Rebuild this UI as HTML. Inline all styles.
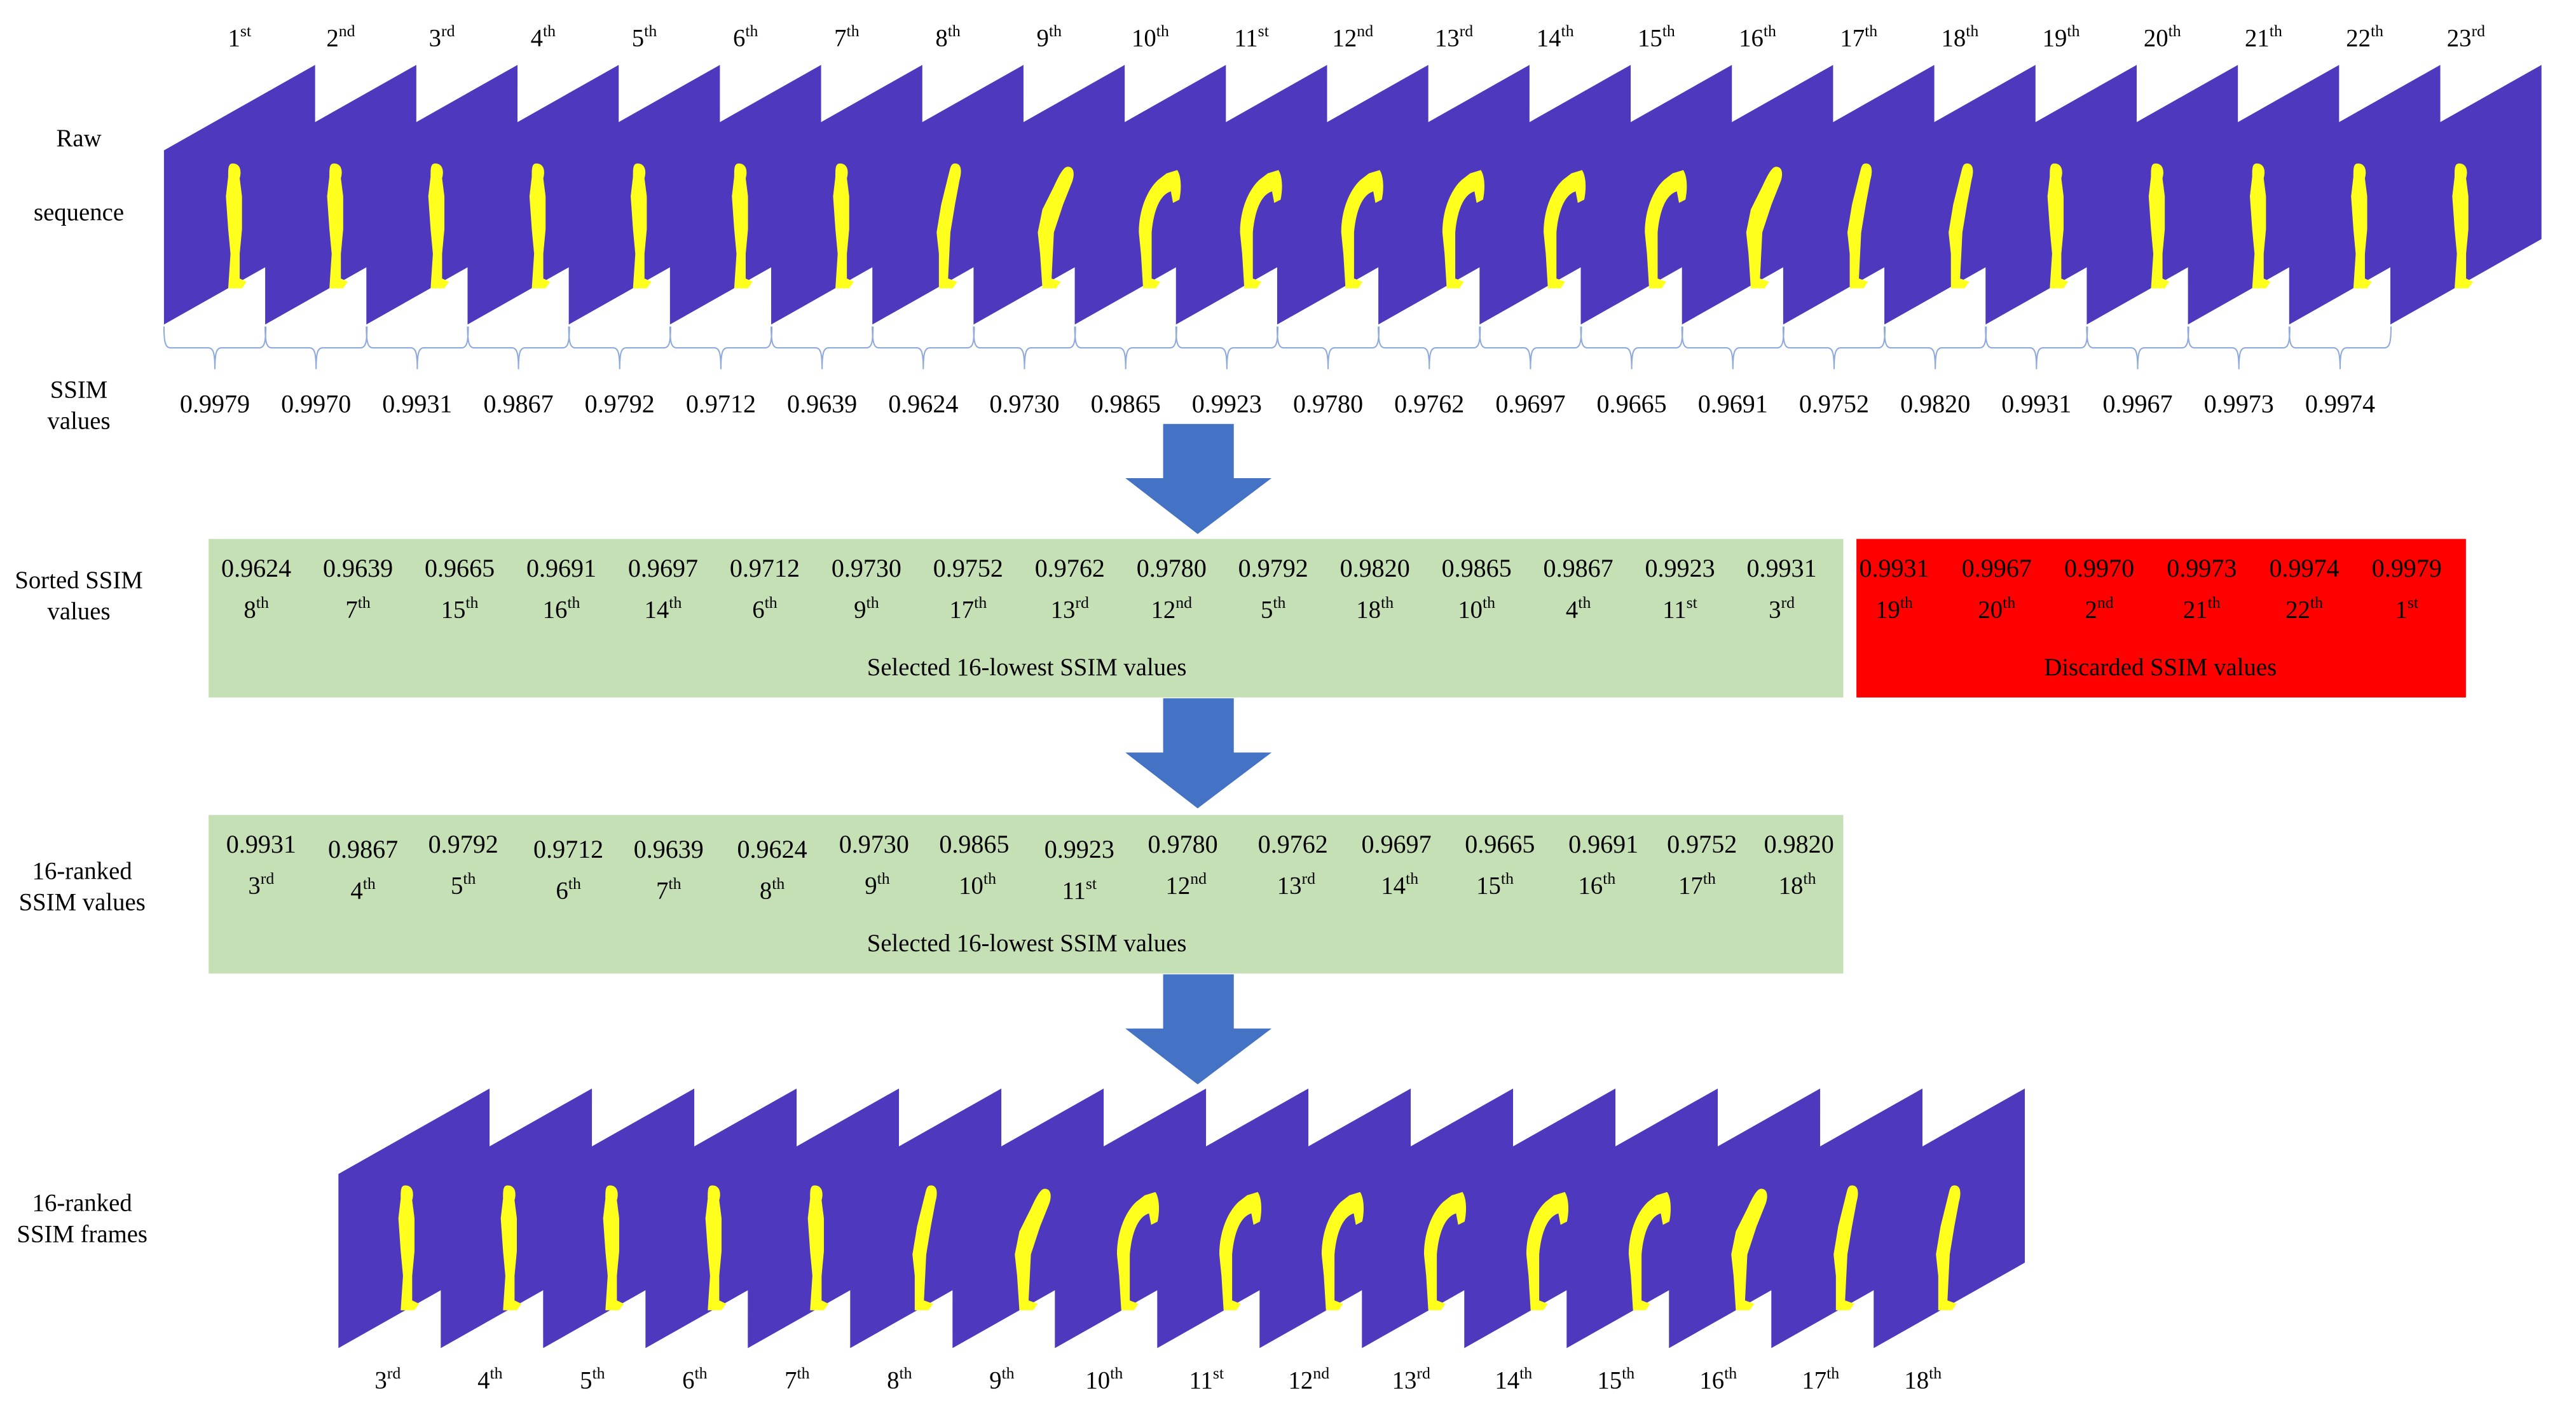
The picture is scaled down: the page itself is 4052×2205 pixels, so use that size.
<!DOCTYPE html>
<html><head><meta charset="utf-8"><style>
html,body{margin:0;padding:0;background:#fff;}
svg{display:block;}
text{font-family:"Liberation Serif","Times New Roman",serif;fill:#000;}
</style></head><body>
<svg width="4052" height="2205" viewBox="0 0 1568 853.3" preserveAspectRatio="none" xmlns="http://www.w3.org/2000/svg" xmlns:xlink="http://www.w3.org/1999/xlink">
<defs>
<path id="fr" d="M0,52 L92,0 L92,106 L0,158 Z" fill="#4E38BE"/>
<g id="up"><path transform="scale(1.4,1)" fill="#FFFF1E" d="M3,0 C6,0 7,4 6,9 L7,20 L7,40 L6,55 L6,70 L9,72 L7,76 L1,76 L2,55 L1,40 L0,20 L1,8 C1,3 1,0 3,0 Z"/></g>
<g id="ln"><path transform="scale(1.4,1)" fill="#FFFF1E" d="M9,0 C12,0 12,5 11,10 L9,25 L7,42 L6,70 L10,72 L8,76 L2,76 L2,55 L1,42 L3,25 L6,8 C7,3 7,0 9,0 Z"/></g>
<g id="ln2"><path transform="scale(1.4,1)" fill="#FFFF1E" d="M14,2 C17,2 17,7 16,11 L12,25 L8,42 L7,70 L11,72 L9,76 L3,76 L2,55 L1,42 L3,28 L8,14 C10,8 12,2 14,2 Z"/></g>
<g id="bt"><path transform="scale(1.3,1)" fill="#FFFF1E" d="M14,6 L19,4 C21,8 21,16 20,22 L17,24 L16,17 C11,19 8,28 7,42 L7,70 L11,72 L9,76 L3,76 L2,55 L1,42 C1,28 5,16 10,10 Z"/></g>
<path id="br" fill="none" stroke="#8FAADC" stroke-width="0.8" d="M0,0 C0,10 1,13 4,13 L27,13 C30,13 31,16 31,26 C31,16 32,13 35,13 L58,13 C61,13 62,10 62,0"/>
<path id="arr" fill="#4472C4" d="M-21,0 L22,0 L22,33 L45,33 L0,67 L-44,33 L-21,33 Z"/>
</defs>

<g transform="translate(99.8,39.5)">
<use xlink:href="#fr" x="0"/><use xlink:href="#fr" x="61.6"/><use xlink:href="#fr" x="123.2"/><use xlink:href="#fr" x="184.8"/><use xlink:href="#fr" x="246.4"/><use xlink:href="#fr" x="308"/><use xlink:href="#fr" x="369.6"/><use xlink:href="#fr" x="431.2"/><use xlink:href="#fr" x="492.8"/><use xlink:href="#fr" x="554.4"/><use xlink:href="#fr" x="616"/><use xlink:href="#fr" x="677.6"/><use xlink:href="#fr" x="739.2"/><use xlink:href="#fr" x="800.8"/><use xlink:href="#fr" x="862.4"/><use xlink:href="#fr" x="924"/><use xlink:href="#fr" x="985.6"/><use xlink:href="#fr" x="1047.2"/><use xlink:href="#fr" x="1108.8"/><use xlink:href="#fr" x="1170.4"/><use xlink:href="#fr" x="1232"/><use xlink:href="#fr" x="1293.6"/><use xlink:href="#fr" x="1355.2"/>
</g>
<g transform="translate(137.5,99.5)">
<use xlink:href="#up" x="0"/><use xlink:href="#up" x="61.6"/><use xlink:href="#up" x="123.2"/><use xlink:href="#up" x="184.8"/><use xlink:href="#up" x="246.4"/><use xlink:href="#up" x="308"/><use xlink:href="#up" x="369.6"/><use xlink:href="#ln" x="431.2"/><use xlink:href="#ln2" x="492.8"/><use xlink:href="#bt" x="554.4"/><use xlink:href="#bt" x="616"/><use xlink:href="#bt" x="677.6"/><use xlink:href="#bt" x="739.2"/><use xlink:href="#bt" x="800.8"/><use xlink:href="#bt" x="862.4"/><use xlink:href="#ln2" x="924"/><use xlink:href="#ln" x="985.6"/><use xlink:href="#ln" x="1047.2"/><use xlink:href="#up" x="1108.8"/><use xlink:href="#up" x="1170.4"/><use xlink:href="#up" x="1232"/><use xlink:href="#up" x="1293.6"/><use xlink:href="#up" x="1355.2"/>
</g>
<g transform="translate(99.8,198.7)">
<use xlink:href="#br" x="0"/><use xlink:href="#br" x="61.6"/><use xlink:href="#br" x="123.2"/><use xlink:href="#br" x="184.8"/><use xlink:href="#br" x="246.4"/><use xlink:href="#br" x="308"/><use xlink:href="#br" x="369.6"/><use xlink:href="#br" x="431.2"/><use xlink:href="#br" x="492.8"/><use xlink:href="#br" x="554.4"/><use xlink:href="#br" x="616"/><use xlink:href="#br" x="677.6"/><use xlink:href="#br" x="739.2"/><use xlink:href="#br" x="800.8"/><use xlink:href="#br" x="862.4"/><use xlink:href="#br" x="924"/><use xlink:href="#br" x="985.6"/><use xlink:href="#br" x="1047.2"/><use xlink:href="#br" x="1108.8"/><use xlink:href="#br" x="1170.4"/><use xlink:href="#br" x="1232"/><use xlink:href="#br" x="1293.6"/>
</g>

<g font-size="15" text-anchor="middle">
<text x="145.8" y="28">1<tspan font-size="10" dy="-6">st</tspan></text>
<text x="207.4" y="28">2<tspan font-size="10" dy="-6">nd</tspan></text>
<text x="269" y="28">3<tspan font-size="10" dy="-6">rd</tspan></text>
<text x="330.6" y="28">4<tspan font-size="10" dy="-6">th</tspan></text>
<text x="392.2" y="28">5<tspan font-size="10" dy="-6">th</tspan></text>
<text x="453.8" y="28">6<tspan font-size="10" dy="-6">th</tspan></text>
<text x="515.4" y="28">7<tspan font-size="10" dy="-6">th</tspan></text>
<text x="577" y="28">8<tspan font-size="10" dy="-6">th</tspan></text>
<text x="638.6" y="28">9<tspan font-size="10" dy="-6">th</tspan></text>
<text x="700.2" y="28">10<tspan font-size="10" dy="-6">th</tspan></text>
<text x="761.8" y="28">11<tspan font-size="10" dy="-6">st</tspan></text>
<text x="823.4" y="28">12<tspan font-size="10" dy="-6">nd</tspan></text>
<text x="885" y="28">13<tspan font-size="10" dy="-6">rd</tspan></text>
<text x="946.6" y="28">14<tspan font-size="10" dy="-6">th</tspan></text>
<text x="1008.2" y="28">15<tspan font-size="10" dy="-6">th</tspan></text>
<text x="1069.8" y="28">16<tspan font-size="10" dy="-6">th</tspan></text>
<text x="1131.4" y="28">17<tspan font-size="10" dy="-6">th</tspan></text>
<text x="1193" y="28">18<tspan font-size="10" dy="-6">th</tspan></text>
<text x="1254.6" y="28">19<tspan font-size="10" dy="-6">th</tspan></text>
<text x="1316.2" y="28">20<tspan font-size="10" dy="-6">th</tspan></text>
<text x="1377.8" y="28">21<tspan font-size="10" dy="-6">th</tspan></text>
<text x="1439.4" y="28">22<tspan font-size="10" dy="-6">th</tspan></text>
<text x="1501" y="28">23<tspan font-size="10" dy="-6">rd</tspan></text>
</g>

<g font-size="15.5" text-anchor="middle">
<text x="130.8" y="251">0.9979</text><text x="192.4" y="251">0.9970</text><text x="254" y="251">0.9931</text><text x="315.6" y="251">0.9867</text><text x="377.2" y="251">0.9792</text><text x="438.8" y="251">0.9712</text><text x="500.4" y="251">0.9639</text><text x="562" y="251">0.9624</text><text x="623.6" y="251">0.9730</text><text x="685.2" y="251">0.9865</text><text x="746.8" y="251">0.9923</text><text x="808.4" y="251">0.9780</text><text x="870" y="251">0.9762</text><text x="931.6" y="251">0.9697</text><text x="993.2" y="251">0.9665</text><text x="1054.8" y="251">0.9691</text><text x="1116.4" y="251">0.9752</text><text x="1178" y="251">0.9820</text><text x="1239.6" y="251">0.9931</text><text x="1301.2" y="251">0.9967</text><text x="1362.8" y="251">0.9973</text><text x="1424.4" y="251">0.9974</text>
</g>

<g font-size="15" text-anchor="middle">
<text x="48" y="89">Raw</text><text x="48" y="134">sequence</text>
<text x="48" y="242">SSIM</text><text x="48" y="261">values</text>
<text x="48" y="358">Sorted SSIM</text><text x="48" y="377">values</text>
<text x="50" y="535">16-ranked</text><text x="50" y="554">SSIM values</text>
<text x="50" y="737">16-ranked</text><text x="50" y="756">SSIM frames</text>
</g>

<use xlink:href="#arr" x="729" y="258"/>
<use xlink:href="#arr" x="729" y="425"/>
<use xlink:href="#arr" x="729" y="593"/>

<rect x="127" y="328" width="995" height="96.5" fill="#C5E0B4"/>
<rect x="1130" y="328" width="371" height="96.5" fill="#FF0000"/>
<g font-size="15.5" text-anchor="middle">
<text x="156" y="351">0.9624</text><text x="217.9" y="351">0.9639</text><text x="279.8" y="351">0.9665</text><text x="341.7" y="351">0.9691</text><text x="403.6" y="351">0.9697</text><text x="465.5" y="351">0.9712</text><text x="527.4" y="351">0.9730</text><text x="589.3" y="351">0.9752</text><text x="651.2" y="351">0.9762</text><text x="713.1" y="351">0.9780</text><text x="775" y="351">0.9792</text><text x="836.9" y="351">0.9820</text><text x="898.8" y="351">0.9865</text><text x="960.7" y="351">0.9867</text><text x="1022.6" y="351">0.9923</text><text x="1084.5" y="351">0.9931</text>
<text x="1153" y="351">0.9931</text><text x="1215.4" y="351">0.9967</text><text x="1277.8" y="351">0.9970</text><text x="1340.2" y="351">0.9973</text><text x="1402.6" y="351">0.9974</text><text x="1465" y="351">0.9979</text>
</g>
<g font-size="15" text-anchor="middle">
<text x="156" y="376">8<tspan font-size="10" dy="-6">th</tspan></text>
<text x="217.9" y="376">7<tspan font-size="10" dy="-6">th</tspan></text>
<text x="279.8" y="376">15<tspan font-size="10" dy="-6">th</tspan></text>
<text x="341.7" y="376">16<tspan font-size="10" dy="-6">th</tspan></text>
<text x="403.6" y="376">14<tspan font-size="10" dy="-6">th</tspan></text>
<text x="465.5" y="376">6<tspan font-size="10" dy="-6">th</tspan></text>
<text x="527.4" y="376">9<tspan font-size="10" dy="-6">th</tspan></text>
<text x="589.3" y="376">17<tspan font-size="10" dy="-6">th</tspan></text>
<text x="651.2" y="376">13<tspan font-size="10" dy="-6">rd</tspan></text>
<text x="713.1" y="376">12<tspan font-size="10" dy="-6">nd</tspan></text>
<text x="775" y="376">5<tspan font-size="10" dy="-6">th</tspan></text>
<text x="836.9" y="376">18<tspan font-size="10" dy="-6">th</tspan></text>
<text x="898.8" y="376">10<tspan font-size="10" dy="-6">th</tspan></text>
<text x="960.7" y="376">4<tspan font-size="10" dy="-6">th</tspan></text>
<text x="1022.6" y="376">11<tspan font-size="10" dy="-6">st</tspan></text>
<text x="1084.5" y="376">3<tspan font-size="10" dy="-6">rd</tspan></text>
<text x="1153" y="376">19<tspan font-size="10" dy="-6">th</tspan></text>
<text x="1215.4" y="376">20<tspan font-size="10" dy="-6">th</tspan></text>
<text x="1277.8" y="376">2<tspan font-size="10" dy="-6">nd</tspan></text>
<text x="1340.2" y="376">21<tspan font-size="10" dy="-6">th</tspan></text>
<text x="1402.6" y="376">22<tspan font-size="10" dy="-6">th</tspan></text>
<text x="1465" y="376">1<tspan font-size="10" dy="-6">st</tspan></text>
<text x="625" y="411">Selected 16-lowest SSIM values</text>
<text x="1315" y="411">Discarded SSIM values</text>
</g>

<rect x="127" y="496" width="995" height="96.5" fill="#C5E0B4"/>
<g font-size="15.5" text-anchor="middle">
<text x="159" y="519">0.9931</text><text x="221" y="522">0.9867</text><text x="282" y="519">0.9792</text><text x="346" y="522">0.9712</text><text x="407" y="522">0.9639</text><text x="470" y="522">0.9624</text><text x="532" y="519">0.9730</text><text x="593" y="519">0.9865</text><text x="657" y="522">0.9923</text><text x="720" y="519">0.9780</text><text x="787" y="519">0.9762</text><text x="850" y="519">0.9697</text><text x="913" y="519">0.9665</text><text x="976" y="519">0.9691</text><text x="1036" y="519">0.9752</text><text x="1095" y="519">0.9820</text>
</g>
<g font-size="15" text-anchor="middle">
<text x="159" y="544">3<tspan font-size="10" dy="-6">rd</tspan></text>
<text x="221" y="547">4<tspan font-size="10" dy="-6">th</tspan></text>
<text x="282" y="544">5<tspan font-size="10" dy="-6">th</tspan></text>
<text x="346" y="547">6<tspan font-size="10" dy="-6">th</tspan></text>
<text x="407" y="547">7<tspan font-size="10" dy="-6">th</tspan></text>
<text x="470" y="547">8<tspan font-size="10" dy="-6">th</tspan></text>
<text x="534" y="544">9<tspan font-size="10" dy="-6">th</tspan></text>
<text x="595" y="544">10<tspan font-size="10" dy="-6">th</tspan></text>
<text x="657" y="547">11<tspan font-size="10" dy="-6">st</tspan></text>
<text x="722" y="544">12<tspan font-size="10" dy="-6">nd</tspan></text>
<text x="789" y="544">13<tspan font-size="10" dy="-6">rd</tspan></text>
<text x="852" y="544">14<tspan font-size="10" dy="-6">th</tspan></text>
<text x="910" y="544">15<tspan font-size="10" dy="-6">th</tspan></text>
<text x="972" y="544">16<tspan font-size="10" dy="-6">th</tspan></text>
<text x="1033" y="544">17<tspan font-size="10" dy="-6">th</tspan></text>
<text x="1094" y="544">18<tspan font-size="10" dy="-6">th</tspan></text>
<text x="625" y="579">Selected 16-lowest SSIM values</text>
</g>

<g transform="translate(206,662.5)">
<use xlink:href="#fr" x="0"/><use xlink:href="#fr" x="62.3"/><use xlink:href="#fr" x="124.6"/><use xlink:href="#fr" x="186.9"/><use xlink:href="#fr" x="249.2"/><use xlink:href="#fr" x="311.5"/><use xlink:href="#fr" x="373.8"/><use xlink:href="#fr" x="436.1"/><use xlink:href="#fr" x="498.4"/><use xlink:href="#fr" x="560.7"/><use xlink:href="#fr" x="623"/><use xlink:href="#fr" x="685.3"/><use xlink:href="#fr" x="747.6"/><use xlink:href="#fr" x="809.9"/><use xlink:href="#fr" x="872.2"/><use xlink:href="#fr" x="934.5"/>
</g>
<g transform="translate(242.5,721.5)">
<use xlink:href="#up" x="0"/><use xlink:href="#up" x="62.3"/><use xlink:href="#up" x="124.6"/><use xlink:href="#up" x="186.9"/><use xlink:href="#up" x="249.2"/><use xlink:href="#ln" x="311.5"/><use xlink:href="#ln2" x="373.8"/><use xlink:href="#bt" x="436.1"/><use xlink:href="#bt" x="498.4"/><use xlink:href="#bt" x="560.7"/><use xlink:href="#bt" x="623"/><use xlink:href="#bt" x="685.3"/><use xlink:href="#bt" x="747.6"/><use xlink:href="#ln2" x="809.9"/><use xlink:href="#ln" x="872.2"/><use xlink:href="#ln" x="934.5"/>
</g>
<g font-size="15" text-anchor="middle">
<text x="236" y="845">3<tspan font-size="10" dy="-6">rd</tspan></text>
<text x="298.3" y="845">4<tspan font-size="10" dy="-6">th</tspan></text>
<text x="360.6" y="845">5<tspan font-size="10" dy="-6">th</tspan></text>
<text x="422.9" y="845">6<tspan font-size="10" dy="-6">th</tspan></text>
<text x="485.2" y="845">7<tspan font-size="10" dy="-6">th</tspan></text>
<text x="547.5" y="845">8<tspan font-size="10" dy="-6">th</tspan></text>
<text x="609.8" y="845">9<tspan font-size="10" dy="-6">th</tspan></text>
<text x="672.1" y="845">10<tspan font-size="10" dy="-6">th</tspan></text>
<text x="734.4" y="845">11<tspan font-size="10" dy="-6">st</tspan></text>
<text x="796.7" y="845">12<tspan font-size="10" dy="-6">nd</tspan></text>
<text x="859" y="845">13<tspan font-size="10" dy="-6">rd</tspan></text>
<text x="921.3" y="845">14<tspan font-size="10" dy="-6">th</tspan></text>
<text x="983.6" y="845">15<tspan font-size="10" dy="-6">th</tspan></text>
<text x="1045.9" y="845">16<tspan font-size="10" dy="-6">th</tspan></text>
<text x="1108.2" y="845">17<tspan font-size="10" dy="-6">th</tspan></text>
<text x="1170.5" y="845">18<tspan font-size="10" dy="-6">th</tspan></text>
</g>
</svg>
</body></html>
